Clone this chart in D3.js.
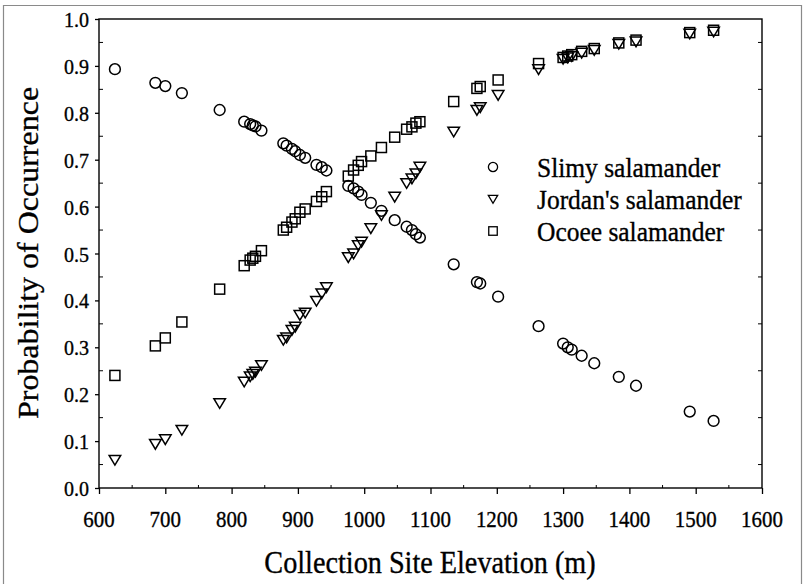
<!DOCTYPE html>
<html>
<head>
<meta charset="utf-8">
<script src="https://cdn.jsdelivr.net/npm/d3@7"></script>
<style>
    body { margin: 0; background: #fff; }
</style>
</head>
<body>
<div id="chart"></div>
<script>
//Collection sites (m) and occurrence probability of each species at that site
var elevation = [624, 685, 700, 725, 782, 819, 828, 832, 836, 845,
    878, 883, 891, 896, 903, 911, 928, 936, 943,
    976, 984, 991, 996, 1010, 1026, 1046, 1064, 1072, 1078, 1084,
    1135, 1170, 1175, 1202, 1263, 1300, 1307, 1313, 1328, 1347,
    1384, 1410, 1491, 1527];

var slimy = [0.893, 0.864, 0.857, 0.842, 0.806, 0.781, 0.776, 0.773, 0.771, 0.762,
    0.735, 0.730, 0.723, 0.718, 0.710, 0.704, 0.689, 0.684, 0.677,
    0.644, 0.639, 0.632, 0.625, 0.608, 0.591, 0.571, 0.557, 0.550, 0.541, 0.534,
    0.477, 0.439, 0.436, 0.408, 0.345, 0.308, 0.300, 0.295, 0.282, 0.266,
    0.237, 0.218, 0.163, 0.143];

var jordans = [0.060, 0.094, 0.104, 0.124, 0.181, 0.227, 0.238, 0.243, 0.248, 0.262,
    0.316, 0.321, 0.337, 0.344, 0.369, 0.374, 0.399, 0.415, 0.428,
    0.492, 0.500, 0.518, 0.525, 0.554, 0.582, 0.621, 0.650, 0.660, 0.671, 0.685,
    0.760, 0.806, 0.812, 0.838, 0.893, 0.915, 0.918, 0.921, 0.928, 0.934,
    0.947, 0.952, 0.969, 0.973];

var ocoee = [0.240, 0.303, 0.320, 0.354, 0.424, 0.474, 0.486, 0.490, 0.494, 0.506,
    0.550, 0.556, 0.567, 0.574, 0.588, 0.595, 0.611, 0.621, 0.632,
    0.665, 0.678, 0.688, 0.696, 0.708, 0.726, 0.748, 0.765, 0.770, 0.778, 0.781,
    0.824, 0.852, 0.856, 0.870, 0.905, 0.918, 0.921, 0.924, 0.931, 0.937,
    0.949, 0.955, 0.971, 0.976];

var xTicks = [600, 700, 800, 900, 1000, 1100, 1200, 1300, 1400, 1500, 1600];
var yTicks = [0.0, 0.1, 0.2, 0.3, 0.4, 0.5, 0.6, 0.7, 0.8, 0.9, 1.0];
var legendNames = ["Slimy salamander", "Jordan's salamander", "Ocoee salamander"];

var w = 803;
var h = 584;
var squish = 0.91;   //the scanned figure is a bit narrower than tall
var serif = "'Liberation Serif', 'Times New Roman', serif";

var svg = d3.select("#chart")
    .append("svg")
    .attr("width", w)
    .attr("height", h);

//faint frame of the scanned page
svg.append("path")
    .attr("d", "M3.5,584 L3.5,5.5 L801.5,5.5 L801.5,584")
    .attr("fill", "none")
    .attr("stroke", "#8a8a8a")
    .attr("stroke-width", 1.2);

var x = d3.scaleLinear().domain([600, 1600]).range([99, 762]);
var y = d3.scaleLinear().domain([0, 1]).range([488, 19]);

//all text gets a hairline stroke so it looks as heavy as the scan
function label(sel, size) {
    return sel.style("font-family", serif)
        .style("font-size", size + "px")
        .attr("fill", "#000")
        .attr("stroke", "#000")
        .attr("stroke-width", 0.35);
}

//Plot box
svg.append("rect")
    .attr("x", x(600))
    .attr("y", y(1))
    .attr("width", x(1600) - x(600))
    .attr("height", y(0) - y(1))
    .attr("fill", "none")
    .attr("stroke", "#000")
    .attr("stroke-width", 1.4);

//Bottom axis: major ticks outside, minor inside
var xAxis = d3.axisBottom(x)
    .tickValues(xTicks)
    .tickSize(6)
    .tickFormat(d3.format("d"));

var gx = svg.append("g")
    .attr("transform", "translate(0," + y(0) + ")")
    .call(xAxis);
gx.select(".domain").remove();
gx.selectAll(".tick line").attr("stroke", "#000").attr("stroke-width", 1.3);
gx.selectAll(".tick text").remove();

svg.append("g").selectAll("line")
    .data(d3.range(650, 1600, 100))
    .enter().append("line")
    .attr("x1", function (d) { return x(d); })
    .attr("x2", function (d) { return x(d); })
    .attr("y1", y(0))
    .attr("y2", y(0) - 3)
    .attr("stroke", "#000");

svg.append("g").selectAll("text")
    .data(xTicks)
    .enter().append("text")
    .attr("transform", function (d) { return "translate(" + x(d) + ",527) scale(" + squish + ",1)"; })
    .attr("text-anchor", "middle")
    .call(label, 23)
    .text(function (d) { return d; });

//Left axis
var yAxis = d3.axisLeft(y)
    .tickValues(yTicks)
    .tickSize(4);

var gy = svg.append("g")
    .attr("transform", "translate(" + x(600) + ",0)")
    .call(yAxis);
gy.select(".domain").remove();
gy.selectAll(".tick line").attr("stroke", "#000").attr("stroke-width", 1.3);
gy.selectAll(".tick text").remove();

var minorY = d3.range(0.05, 1, 0.1);

svg.append("g").selectAll("line")
    .data(minorY)
    .enter().append("line")
    .attr("x1", x(600))
    .attr("x2", x(600) + 4)
    .attr("y1", function (d) { return y(d); })
    .attr("y2", function (d) { return y(d); })
    .attr("stroke", "#000");

//Right side only has the in-between ticks
svg.append("g").selectAll("line")
    .data(minorY)
    .enter().append("line")
    .attr("x1", x(1600))
    .attr("x2", x(1600) - 4)
    .attr("y1", function (d) { return y(d); })
    .attr("y2", function (d) { return y(d); })
    .attr("stroke", "#000");

svg.append("g").selectAll("text")
    .data(yTicks)
    .enter().append("text")
    .attr("transform", function (d) { return "translate(89," + (y(d) + 8) + ") scale(" + squish + ",1)"; })
    .attr("text-anchor", "end")
    .call(label, 22)
    .text(function (d) { return d3.format(".1f")(d); });

//Axis titles
svg.append("text")
    .attr("transform", "translate(430,573) scale(" + squish + ",1)")
    .attr("text-anchor", "middle")
    .call(label, 31)
    .text("Collection Site Elevation (m)");

svg.append("text")
    .attr("transform", "translate(38,253) scale(" + squish + ",1) rotate(-90)")
    .attr("text-anchor", "middle")
    .call(label, 32)
    .text("Probability of Occurrence");

//Marker shapes
function circleMark(g, r) {
    g.append("circle").attr("r", r);
}
function triangleMark(g, s) {
    g.append("path").attr("d", "M" + (-s * 0.55) + "," + (-s * 0.42) + "L" + (s * 0.55) + "," + (-s * 0.42) + "L0," + (s * 0.5) + "Z");
}
function squareMark(g, s) {
    g.append("rect").attr("x", -s / 2).attr("y", -s / 2).attr("width", s).attr("height", s);
}

var series = [
    {values: slimy, mark: circleMark, size: 5.4},
    {values: jordans, mark: triangleMark, size: 10.5},
    {values: ocoee, mark: squareMark, size: 10}
];

//draw in the order the original seems to: squares, triangles, circles
[2, 1, 0].forEach(function (k) {
    var s = series[k];
    var pts = svg.append("g")
        .attr("fill", "none")
        .attr("stroke", "#000")
        .attr("stroke-width", 1.5)
        .selectAll("g")
        .data(elevation)
        .enter()
        .append("g")
        .attr("transform", function (d, i) { return "translate(" + x(d) + "," + y(s.values[i]) + ")"; });
    pts.each(function () { s.mark(d3.select(this), s.size); });
});

//Legend
var legendY = [167, 199, 231];
var legend = svg.append("g");
legendNames.forEach(function (name, i) {
    var g = legend.append("g")
        .attr("transform", "translate(493," + legendY[i] + ")")
        .attr("fill", "none")
        .attr("stroke", "#000")
        .attr("stroke-width", 1.3);
    series[i].mark(g, i == 0 ? 4.6 : 8.5);

    legend.append("text")
        .attr("transform", "translate(537," + (legendY[i] + 9.5) + ") scale(" + squish + ",1)")
        .call(label, 28)
        .text(name);
});
</script>
</body>
</html>
